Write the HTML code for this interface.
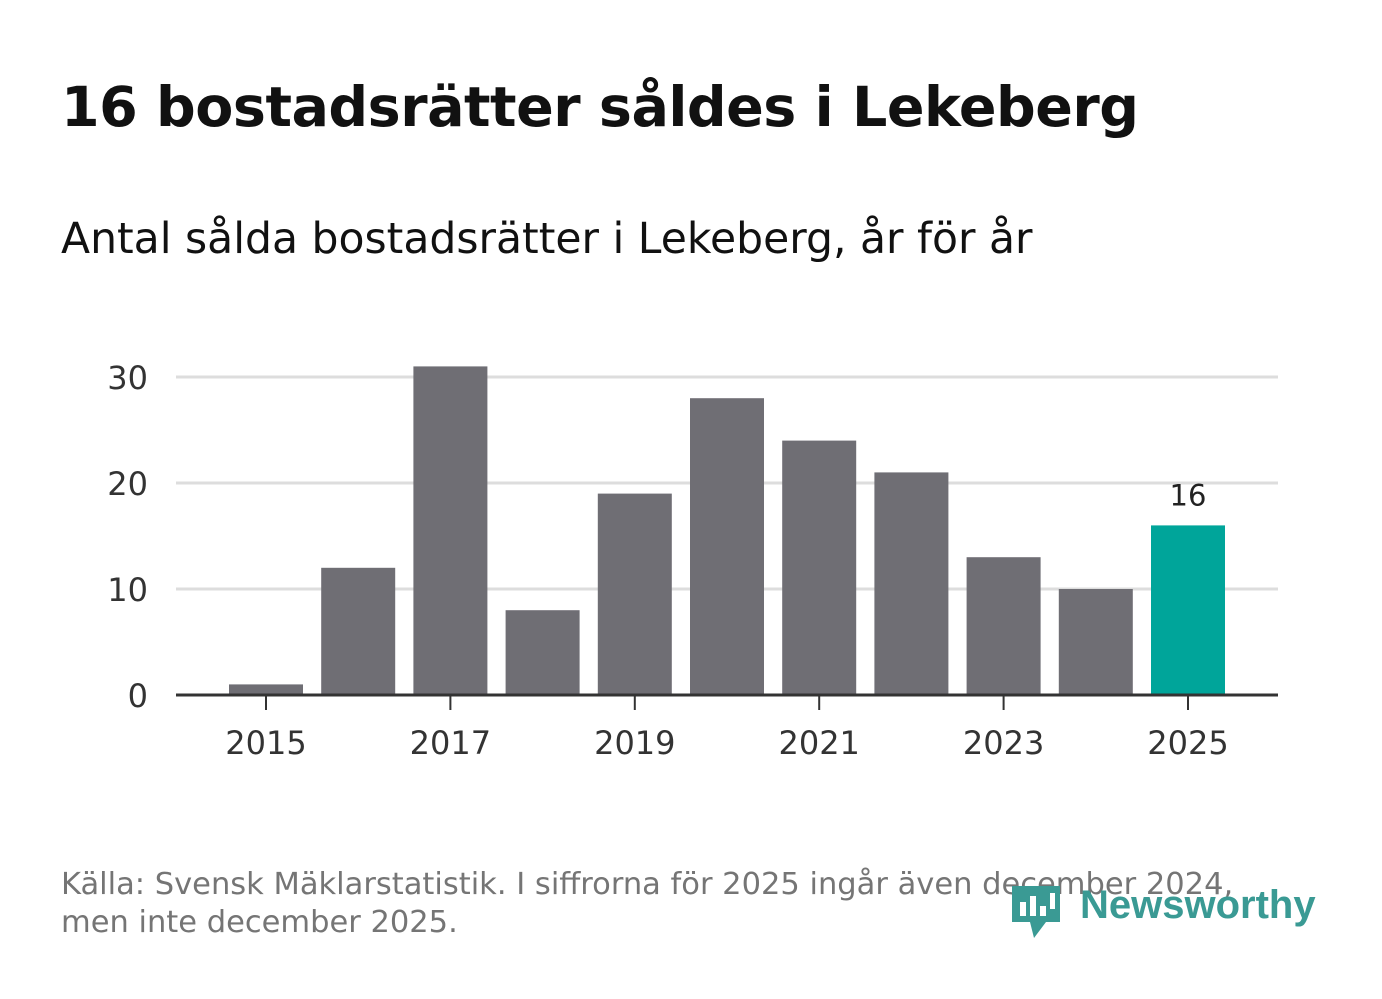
<!DOCTYPE html>
<html><head><meta charset="utf-8">
<style>
body{margin:0;width:1382px;height:999px;background:#fff;font-family:"DejaVu Sans","Liberation Sans",sans-serif;overflow:hidden;position:relative}
.t{position:absolute;left:61px;top:75px;font-size:55.5px;font-weight:bold;color:#111;letter-spacing:-0.5px}
.s{position:absolute;left:61px;top:215px;font-size:42.5px;color:#111}
.f{position:absolute;left:61px;top:866px;font-size:30.5px;color:#757575;line-height:38px}
svg{position:absolute;left:0;top:0}
</style></head><body>
<div class="t">16 bostadsrätter såldes i Lekeberg</div>
<div class="s">Antal sålda bostadsrätter i Lekeberg, år för år</div>
<svg id="c" width="1382" height="999"></svg>
<div class="f">Källa: Svensk Mäklarstatistik. I siffrorna för 2025 ingår även december 2024,<br>men inte december 2025.</div>
<svg width="1382" height="999" style="pointer-events:none">
<path d="M1012 886 h48 v36 h-14 l-12 16 l-4 -16 h-18 z" fill="#3a9a94"/>
<rect x="1020" y="902" width="6" height="14" fill="#fff"/><rect x="1030" y="896" width="6" height="20" fill="#fff"/><rect x="1040" y="906" width="6" height="10" fill="#fff"/><rect x="1050" y="893" width="5" height="16" fill="#fff"/>
<text x="1080" y="918" font-size="40" font-weight="bold" fill="#3a9a94" font-family="Liberation Sans,sans-serif">Newsworthy</text>
</svg>
<script>
const years=[2015,2016,2017,2018,2019,2020,2021,2022,2023,2024,2025];
const values=[1,12,31,8,19,28,24,21,13,10,16];
const yTicks=[0,10,20,30];
const xTickYears=[2015,2017,2019,2021,2023,2025];
const NS="http://www.w3.org/2000/svg";
const svg=document.getElementById('c');
const y=v=>695-v*10.6;
const x=yr=>266+(yr-2015)*92.2;
function mk(t,a){const e=document.createElementNS(NS,t);for(const k in a)e.setAttribute(k,a[k]);svg.appendChild(e);return e;}
yTicks.forEach(v=>{
 if(v>0){const g=mk('line',{x1:176,x2:1278,y1:y(v),y2:y(v),stroke:'#ddd','stroke-width':3});
 
 }
 const t=mk('text',{x:148,y:y(v)+12,'text-anchor':'end','font-size':32,fill:'#333'});t.textContent=v;
 
 
});
years.forEach((yr,i)=>{
 const last=i===years.length-1;
 const r=mk('rect',{x:x(yr)-37,y:y(values[i]),width:74,height:695-y(values[i]),fill:last?'#00a59a':'#6f6e74'});
 
 
 if(last){const l=mk('text',{x:x(yr),y:y(values[i])-20,'text-anchor':'middle','font-size':29,fill:'#222'});l.textContent=values[i];
 
 }
});
const ax=mk('line',{x1:176,x2:1278,y1:695,y2:695,stroke:'#333','stroke-width':3});


xTickYears.forEach(yr=>{
 const tk=mk('line',{x1:x(yr),x2:x(yr),y1:695,y2:710,stroke:'#333','stroke-width':2});
 
 
 const t=mk('text',{x:x(yr),y:754,'text-anchor':'middle','font-size':32,fill:'#333'});t.textContent=yr;
 
 
});
</script>
</body></html>
